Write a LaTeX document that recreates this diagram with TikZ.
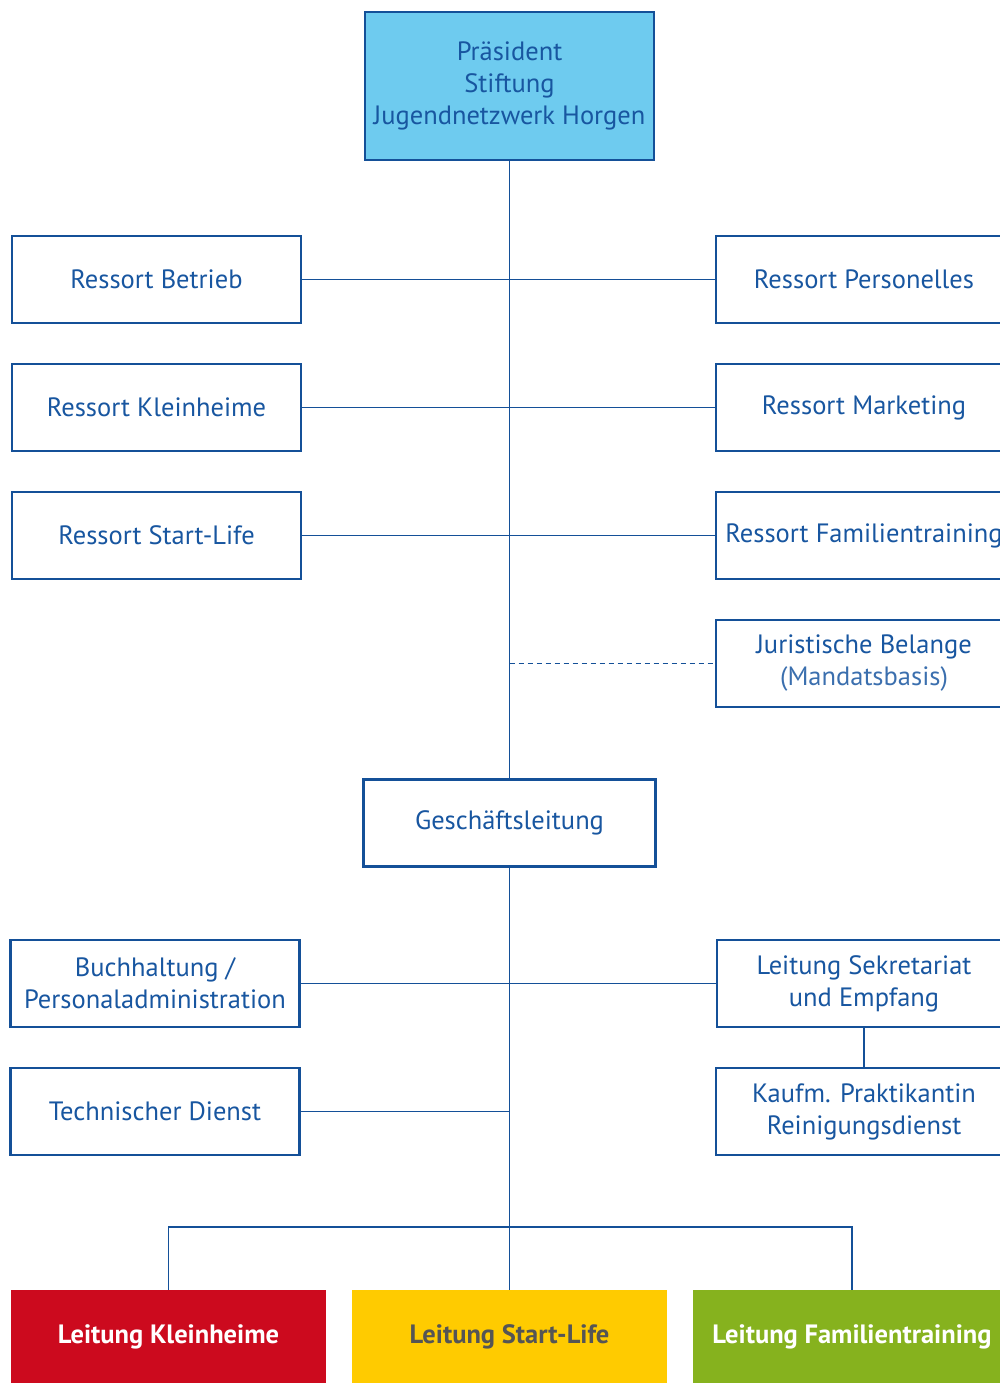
\documentclass[tikz,border=0pt]{standalone}
\usepackage{fontspec}
\setmainfont{PT Sans}
\usetikzlibrary{positioning}
\definecolor{orgblue}{RGB}{20,80,152}
\definecolor{txtblue}{RGB}{24,86,160}
\definecolor{presfill}{RGB}{110,203,239}
\definecolor{kred}{RGB}{204,10,30}
\definecolor{syellow}{RGB}{255,203,0}
\definecolor{fgreen}{RGB}{134,178,30}
\definecolor{sgray}{RGB}{85,85,85}

\tikzset{
  orgbox/.style={draw=orgblue, line width=2.5pt, text=txtblue, minimum width=289pt,
    minimum height=87pt, inner sep=0pt, align=center, font=\fontsize{26.5}{32}\selectfont},
  headbox/.style={orgbox, fill=presfill},
  leadbox/.style={minimum width=315pt, minimum height=94pt, inner sep=0pt,
    font=\bfseries\fontsize{26.5}{30}\selectfont},
  link/.style={draw=orgblue, line width=1.5pt}
}

\begin{document}
\begin{tikzpicture}[x=1pt,y=-1pt]
\useasboundingbox (0,0) rectangle (1000,1383);
\clip (0,0) rectangle (1000,1383);

% Stiftungsrat
\node[headbox, minimum height=148pt] (pres) at (509.5,86) {Präsident\\Stiftung\\Jugendnetzwerk Horgen};

\node[orgbox] (betrieb) at (156.5,279.5) {Ressort Betrieb};
\node[orgbox] (kleinheime) at (156.5,407.5) {Ressort Kleinheime};
\node[orgbox] (startlife) at (156.5,535.5) {Ressort Start-Life};

\node[orgbox, minimum width=296pt] (personelles) at (864,279.5) {Ressort Personelles};
\node[orgbox, minimum width=296pt] (marketing) at (864,407.5) {Ressort Marketing};
\node[orgbox, minimum width=296pt] (familie) at (864,535.5) {Ressort Familientraining};
\node[orgbox, minimum width=296pt] (juristisch) at (864,663.5) {Juristische Belange\\{\color{txtblue!85}(Mandatsbasis)}};

% Geschaeftsleitung
\node[orgbox, minimum width=292pt] (gl) at (509.5,823) {Geschäftsleitung};

\node[orgbox] (buchhaltung) at (155,983.5) {Buchhaltung /\\Personaladministration};
\node[orgbox] (technik) at (155,1111.5) {Technischer Dienst};
\node[orgbox, minimum width=294pt] (sekretariat) at (864,983.5) {Leitung Sekretariat\\und Empfang};
\node[orgbox, minimum width=296pt] (praktikum) at (864,1111.5) {Kaufm. Praktikantin\\Reinigungsdienst};

% Leitungen
\node[leadbox, fill=kred, text=white] (lkh) at (168.5,1337) {Leitung Kleinheime};
\node[leadbox, fill=syellow, text=sgray] (lsl) at (509.5,1337) {Leitung Start-Life};
\node[leadbox, fill=fgreen, text=white, minimum width=318pt] (lft) at (852,1337) {Leitung Familientraining};

\coordinate (bus) at (509.5,1227);

\begin{scope}[on background layer/.try]
\draw[link] (pres.south) -- (gl.north);
\draw[link] (gl.south) -- (gl.south |- lsl.north);
\draw[link] (betrieb.east) -- (personelles.west);
\draw[link] (kleinheime.east) -- (marketing.west);
\draw[link] (startlife.east) -- (familie.west);
\draw[link, dashed, dash pattern=on 5pt off 4pt] (pres.south |- juristisch.west) -- (juristisch.west);
\draw[link] (buchhaltung.east) -- (sekretariat.west);
\draw[link] (technik.east) -- (technik.east -| gl.south);
\draw[link] (sekretariat.south) -- (praktikum.north);
\draw[link] (lkh.north) -- (lkh.north |- bus) -- (lft.north |- bus) -- (lft.north);
\end{scope}
\end{tikzpicture}
\end{document}
